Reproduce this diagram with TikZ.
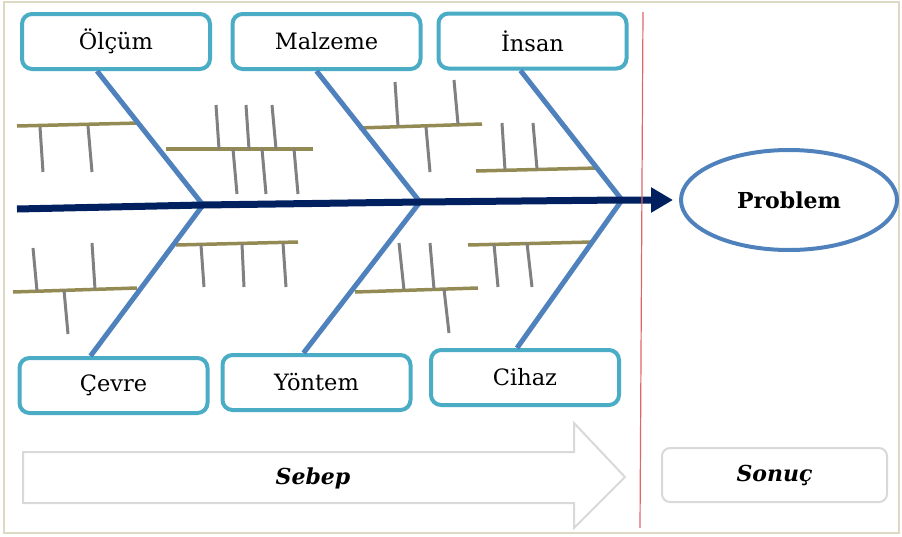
\documentclass[tikz,border=0pt]{standalone}
\usepackage{fontspec}
\setmainfont{DejaVu Serif}
\usepackage{xcolor}
\usepackage{tikz}
\usetikzlibrary{shapes.geometric,arrows.meta,positioning}
\definecolor{boxteal}{HTML}{4BACC6}
\definecolor{bonesblue}{HTML}{4F81BD}
\definecolor{spinenavy}{HTML}{002060}
\definecolor{subolive}{HTML}{948A54}
\definecolor{tickgray}{HTML}{808080}
\definecolor{lightgray}{HTML}{D9D9D9}
\definecolor{framebeige}{HTML}{DDD9C3}
\definecolor{divred}{HTML}{E06666}
\tikzstyle{cause} = [rectangle, draw=boxteal, line width=4pt, rounded corners=10pt, fill=white, minimum width=188pt, minimum height=55pt, font=\fontsize{22.5}{26}\selectfont]
\tikzstyle{effect} = [ellipse, draw=bonesblue, line width=4pt, minimum width=216pt, minimum height=100pt, font=\fontsize{22}{26}\selectfont\bfseries]
\tikzstyle{bone} = [draw=bonesblue, line width=5pt]
\tikzstyle{spine} = [draw=spinenavy, line width=7pt, -{Triangle[length=22pt,width=24pt]}]
\tikzstyle{sub} = [draw=subolive, line width=3.5pt]
\tikzstyle{tick} = [draw=tickgray, line width=3pt]
\tikzstyle{caption} = [font=\fontsize{22}{26}\selectfont\bfseries\itshape]

\begin{document}
\begin{tikzpicture}[x=1pt, y=-1pt]
    \useasboundingbox (0,0) rectangle (902,536);
    \draw [framebeige, line width=1.5pt] (4,2) rectangle (899,533);

    % causes and effect
    \node [cause] (olcum) at (116,41.5) {Ölçüm};
    \node [cause] (malzeme) at (326.5,41.5) {Malzeme};
    \node [cause] (insan) at (532.5,41) {İnsan};
    \node [cause] (cevre) at (113.5,385.5) {Çevre};
    \node [cause] (yontem) at (316.5,382.5) {Yöntem};
    \node [cause] (cihaz) at (525,377.5) {Cihaz};
    \node [effect] (problem) at (789,200) {Problem};

    \coordinate (tail) at (17,209);
    \coordinate (j1) at (203,205);
    \coordinate (j2) at (420,202);
    \coordinate (j3) at (622,200);

    % sub-causes
    \draw [sub] (17,126) -- (140,123);
    \draw [tick] (40,127) -- (43,172);
    \draw [tick] (88,126) -- (92,172);
    \draw [sub] (166,149) -- (313,149);
    \draw [tick] (216,105) -- (219,149);
    \draw [tick] (246,105) -- (249,149);
    \draw [tick] (272,105) -- (276,149);
    \draw [tick] (233,149) -- (237,194);
    \draw [tick] (262,149) -- (266,194);
    \draw [tick] (294,149) -- (298,194);
    \draw [sub] (359,128) -- (482,124);
    \draw [tick] (395,82) -- (398,126);
    \draw [tick] (454,80) -- (458,124);
    \draw [tick] (426,127) -- (430,172);
    \draw [sub] (476,171) -- (598,168);
    \draw [tick] (502,123) -- (505,170);
    \draw [tick] (533,123) -- (537,169);
    \draw [sub] (13,292) -- (137,288);
    \draw [tick] (33,248) -- (37,291);
    \draw [tick] (92,243) -- (95,289);
    \draw [tick] (64,290) -- (68,334);
    \draw [sub] (176,245) -- (298,242);
    \draw [tick] (201,245) -- (204,287);
    \draw [tick] (242,244) -- (244,287);
    \draw [tick] (283,243) -- (286,287);
    \draw [sub] (355,292) -- (478,288);
    \draw [tick] (399,243) -- (404,290);
    \draw [tick] (430,243) -- (434,289);
    \draw [tick] (444,289) -- (449,333);
    \draw [sub] (468,245) -- (592,242);
    \draw [tick] (494,244) -- (498,287);
    \draw [tick] (527,243) -- (532,287);

    % bones
    \path [bone] ([xshift=-19pt]olcum.south) -- (j1);
    \path [bone] ([xshift=-10pt]malzeme.south) -- (j2);
    \path [bone] ([xshift=-12pt]insan.south) -- (j3);
    \path [bone] ([xshift=-23pt]cevre.north) -- (j1);
    \path [bone] ([xshift=-13pt]yontem.north) -- (j2);
    \path [bone] ([xshift=-8pt]cihaz.north) -- (j3);
    \path [spine, shorten >=6pt] (tail) -- (j1) -- (j2) -- (j3) -- (problem);

    \draw [divred, line width=1.2pt] (643,12) -- (640,528);

    % cause / result
    \draw [lightgray, line width=2pt] (23,452) -- (574,452) -- (574,423) -- (625,477) -- (574,528) -- (574,503) -- (23,503) -- cycle;
    \node [caption] (sebep) at (313,478) {Sebep};
    \node [caption, rectangle, draw=lightgray, line width=2pt, rounded corners=8pt, minimum width=225pt, minimum height=54pt] (sonuc) at (774.5,475) {Sonuç};
\end{tikzpicture}
\end{document}
